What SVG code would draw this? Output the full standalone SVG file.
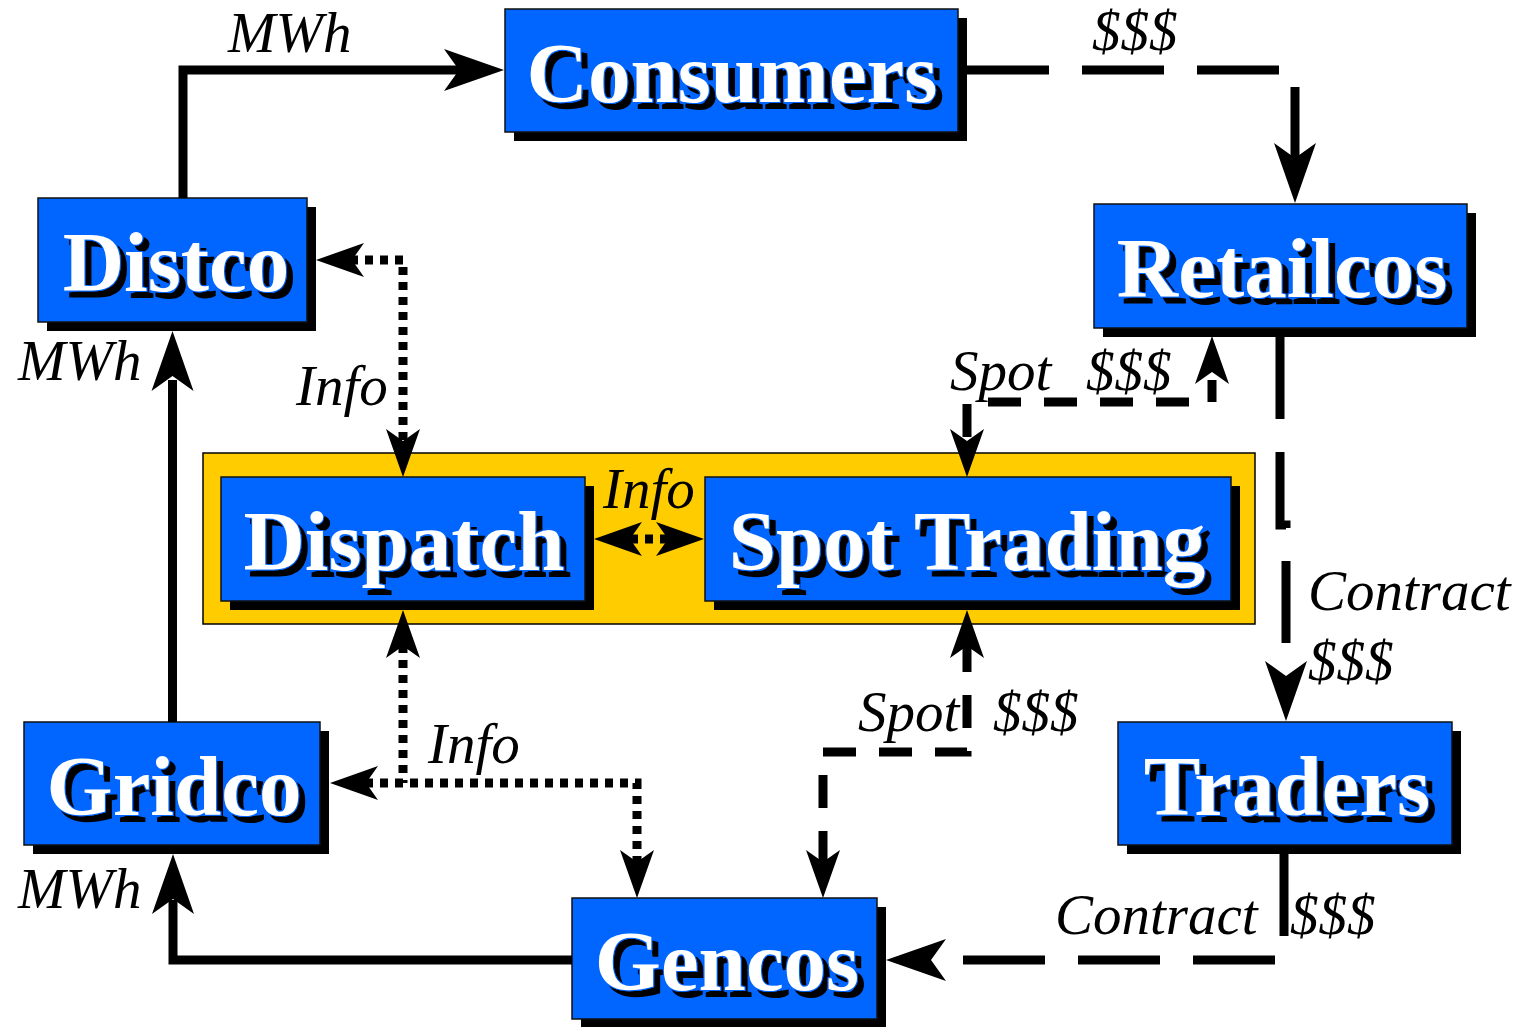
<svg xmlns="http://www.w3.org/2000/svg" xmlns:xlink="http://www.w3.org/1999/xlink" width="1530" height="1027" viewBox="0 0 1530 1027">
<style>
.bg{fill:#fff}
.box{fill:#0066FF;stroke:#111;stroke-width:1.5}
.shadow{fill:#000}
.panel{fill:#FFCC00;stroke:#000;stroke-width:1.5}
.lbl{font-family:"Liberation Serif","Times New Roman",serif;font-weight:bold;font-size:85px;text-anchor:middle;fill:#fff;stroke:#0066FF;stroke-width:2;paint-order:stroke;filter:url(#ts)}
.el{font-family:"Liberation Serif","Times New Roman",serif;font-style:italic;font-size:57px;fill:#000}
.ln{fill:none;stroke:#000;stroke-width:9;stroke-linejoin:miter}
.dash{stroke-dasharray:82 33}
.fdash{stroke-dasharray:33 23}
.dot{stroke-dasharray:8 7}
.ah{fill:#000}
</style>
<defs>
<filter id="ts" x="-10%" y="-20%" width="130%" height="150%">
<feOffset in="SourceAlpha" dx="6" dy="6" result="o"/>
<feMerge><feMergeNode in="o"/><feMergeNode in="SourceGraphic"/></feMerge>
</filter>
<path id="aL" d="M0,0 L-60,-21 L-45,0 L-60,21 Z"/>
<path id="aS" d="M0,0 L-48,-17 L-36,0 L-48,17 Z"/>
</defs>
<rect class="bg" x="0" y="0" width="1530" height="1027"/>
<rect class="panel" x="203" y="453" width="1052" height="171"/>

<g id="consumers">
<rect class="shadow" x="514" y="18" width="453" height="123"/>
<rect class="box" x="505" y="9" width="453" height="123"/>
<text class="lbl" x="732" y="102">Consumers</text>
</g>
<g id="distco">
<rect class="shadow" x="47" y="207" width="269" height="124"/>
<rect class="box" x="38" y="198" width="269" height="124"/>
<text class="lbl" x="176" y="291">Distco</text>
</g>
<g id="retailcos">
<rect class="shadow" x="1103" y="213" width="373" height="124"/>
<rect class="box" x="1094" y="204" width="373" height="124"/>
<text class="lbl" x="1282" y="297">Retailcos</text>
</g>
<g id="dispatch">
<rect class="shadow" x="230" y="486" width="364" height="124"/>
<rect class="box" x="221" y="477" width="364" height="124"/>
<text class="lbl" x="404" y="570">Dispatch</text>
</g>
<g id="spot-trading">
<rect class="shadow" x="714" y="486" width="526" height="124"/>
<rect class="box" x="705" y="477" width="526" height="124"/>
<text class="lbl" x="967" y="570">Spot Trading</text>
</g>
<g id="gridco">
<rect class="shadow" x="33" y="731" width="296" height="123"/>
<rect class="box" x="24" y="722" width="296" height="123"/>
<text class="lbl" x="174" y="815">Gridco</text>
</g>
<g id="traders">
<rect class="shadow" x="1127" y="731" width="334" height="123"/>
<rect class="box" x="1118" y="722" width="334" height="123"/>
<text class="lbl" x="1287" y="815">Traders</text>
</g>
<g id="gencos">
<rect class="shadow" x="581" y="907" width="305" height="121"/>
<rect class="box" x="572" y="898" width="305" height="121"/>
<text class="lbl" x="727" y="990">Gencos</text>
</g>

<g id="connectors">
<path class="ln" d="M183,198 V70 H465"/>
<use class="ah" href="#aL" transform="translate(504,70)"/>
<path class="ln dash" d="M967,70 H1295 V165"/>
<use class="ah" href="#aL" transform="translate(1295,203) rotate(90)"/>
<path class="ln dash" d="M1280,337 V525 H1286 V680"/>
<use class="ah" href="#aL" transform="translate(1286,721) rotate(90)"/>
<path class="ln dash" d="M1284,854 V960 H935"/>
<use class="ah" href="#aL" transform="translate(886,960) rotate(180)"/>
<path class="ln fdash" style="stroke-dashoffset:11" d="M1212,380 V402 H967 V440"/>
<use class="ah" href="#aS" transform="translate(1212,336) rotate(-90)"/>
<use class="ah" href="#aS" transform="translate(967,477) rotate(90)"/>
<path class="ln fdash" d="M967,639 V752 H823 V870"/>
<use class="ah" href="#aS" transform="translate(967,610) rotate(-90)"/>
<use class="ah" href="#aS" transform="translate(823,898) rotate(90)"/>
<path class="ln" d="M572,960 H173 V900"/>
<use class="ah" href="#aL" transform="translate(173,854) rotate(-90)"/>
<path class="ln" d="M172.5,722 V380"/>
<use class="ah" href="#aL" transform="translate(172.5,331) rotate(-90)"/>
<path class="ln dot" d="M350,260 H403 V445"/>
<use class="ah" href="#aS" transform="translate(316,260) rotate(180)"/>
<use class="ah" href="#aS" transform="translate(403,477) rotate(90)"/>
<path class="ln dot" d="M403,645 V783"/>
<path class="ln dot" d="M365,783 H637 V865"/>
<use class="ah" href="#aS" transform="translate(403,610) rotate(-90)"/>
<use class="ah" href="#aS" transform="translate(330,783) rotate(180)"/>
<use class="ah" href="#aS" transform="translate(637,898) rotate(90)"/>
<path class="ln dot" d="M615,539 H680"/>
<use class="ah" href="#aS" transform="translate(594,539) rotate(180)"/>
<use class="ah" href="#aS" transform="translate(704,539)"/>
</g>

<g id="labels">
<text class="el" x="228" y="52">MWh</text>
<text class="el" x="1092" y="50">$$$</text>
<text class="el" x="18" y="380">MWh</text>
<text class="el" x="296" y="405">Info</text>
<text class="el" x="950" y="390">Spot</text>
<text class="el" x="1086" y="390">$$$</text>
<text class="el" x="603" y="508">Info</text>
<text class="el" x="1308" y="610">Contract</text>
<text class="el" x="1308" y="680">$$$</text>
<text class="el" x="858" y="731">Spot</text>
<text class="el" x="993" y="731">$$$</text>
<text class="el" x="428" y="763">Info</text>
<text class="el" x="18" y="908">MWh</text>
<text class="el" x="1055" y="934">Contract</text>
<text class="el" x="1290" y="934">$$$</text>
</g>
</svg>
